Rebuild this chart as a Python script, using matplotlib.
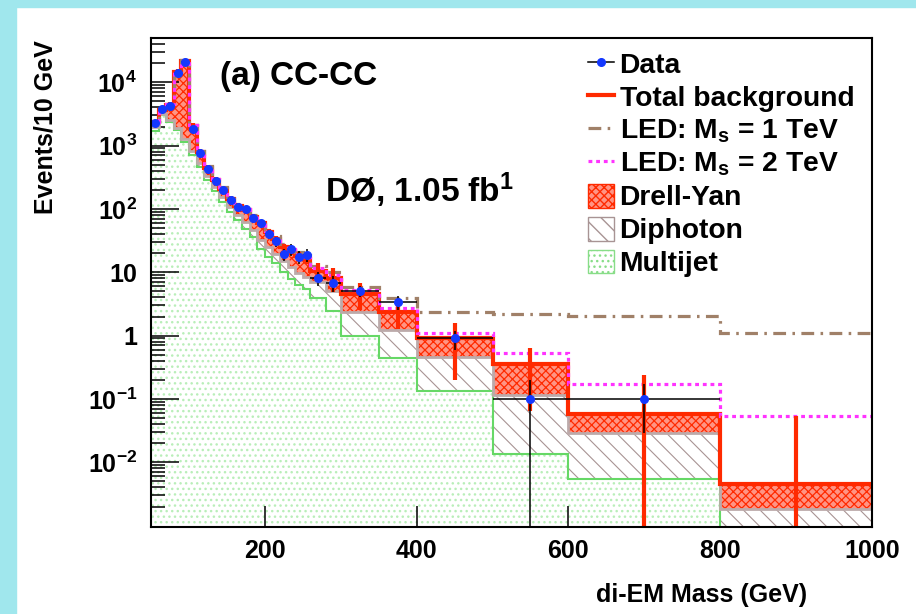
import numpy as np
import matplotlib
matplotlib.use('Agg')
import matplotlib.pyplot as plt
from matplotlib.patches import Rectangle, Patch
from matplotlib.lines import Line2D
from matplotlib.ticker import FixedLocator, FixedFormatter, NullLocator

plt.rcParams['font.family'] = ['Liberation Sans', 'DejaVu Sans']
plt.rcParams['font.weight'] = 'bold'
plt.rcParams['mathtext.fontset'] = 'custom'
plt.rcParams['mathtext.rm'] = 'Liberation Sans:bold'
plt.rcParams['mathtext.it'] = 'Liberation Sans:bold'
plt.rcParams['mathtext.bf'] = 'Liberation Sans:bold'
plt.rcParams['mathtext.sf'] = 'Liberation Sans:bold'
plt.rcParams['mathtext.default'] = 'bf'

# ---------------- data ----------------
bin_edges = [50, 60, 70, 80, 90, 100, 110, 120, 130, 140, 150, 160, 170, 180,
             190, 200, 210, 220, 230, 240, 250, 260, 280, 300, 350, 400, 500,
             600, 800, 1000]

data_vals = [2270, 3780, 4170, 13800, 20900, 1850, 764, 434, 273, 202, 137,
             108, 99, 72, 59, 39.5, 31, 19.3, 23.1, 17.5, 18.6, 8.2, 6.8,
             5.0, 3.4, 0.9, 0.1, 0.1, np.nan]

multijet = [1700, 3000, 2360, 1740, 1140, 700, 458, 290, 190, 130, 90, 66,
            49, 36, 23.7, 17.5, 13.8, 10.1, 7.8, 6.2, 5.35, 3.86, 2.43, 1.0,
            0.45, 0.135, 0.0135, 0.0054, 0.0003]

diphoton = [250, 150, 190, 160, 140, 120, 72, 45, 30, 22, 17, 14, 13, 10,
            8.3, 7.5, 5.7, 4.9, 4.2, 3.6, 3.15, 3.14, 2.57, 1.37, 0.77,
            0.325, 0.10, 0.0236, 0.0015]

drell_yan = [400, 550, 1850, 12600, 20220, 1230, 260, 115, 65, 53, 38, 32,
             33, 28, 27, 18, 13.5, 10, 9.5, 8.2, 7.5, 3.5, 3.2, 2.23, 1.15,
             0.44, 0.24, 0.028, 0.0028]

bkg_err = [230, 370, 440, 1450, 2150, 205, 80, 45, 29, 21, 15, 12, 10, 8,
           6.5, 5, 4, 3.2, 2.9, 2.6, 2.5, 3.5, 3.3, 2.1, 1.1, 0.7, 0.29,
           0.18, 0.05]

led_1tev = [2450, 3850, 4600, 15000, 22500, 2150, 830, 475, 300, 218, 155,
            120, 102, 80, 64, 47, 37, 28, 24.5, 21, 19, 12.5, 10, 5.9, 3.86,
            2.37, 2.16, 2.03, 1.08]

led_2tev = [2400, 3780, 4500, 14700, 21900, 2100, 810, 462, 292, 210, 150,
            115, 98, 77, 61, 45, 35, 26.5, 23, 19.5, 17.5, 11.5, 9.0, 5.2,
            2.69, 1.1, 0.54, 0.172, 0.054]

x_ticks = [200, 400, 600, 800, 1000]
y_ticks = [1e-2, 1e-1, 1, 10, 1e2, 1e3, 1e4]
y_tick_labels = [r'$10^{-2}$', r'$10^{-1}$', '1', '10', r'$10^{2}$',
                 r'$10^{3}$', r'$10^{4}$']

# ---------------- derived ----------------
edges = np.array(bin_edges, float)
centers = 0.5 * (edges[:-1] + edges[1:])
halfw = 0.5 * (edges[1:] - edges[:-1])
mj = np.array(multijet)
dp_top = mj + np.array(diphoton)
total = dp_top + np.array(drell_yan)
dvals = np.array(data_vals)
nevt = dvals * (2 * halfw) / 10.0
derr = np.sqrt(nevt) / ((2 * halfw) / 10.0)

W, H = 916, 614
fig = plt.figure(figsize=(W / 100, H / 100), dpi=100, facecolor='white')
cyan = '#a0e7ed'
fig.patches.append(Rectangle((0, 1 - 7 / H), 1, 7 / H, transform=fig.transFigure,
                             color=cyan, zorder=-10))
fig.patches.append(Rectangle((0, 0), 16 / W, 1, transform=fig.transFigure,
                             color=cyan, zorder=-10))

L, R, T, B = 151, 872, 38, 527
ax = fig.add_axes([L / W, 1 - B / H, (R - L) / W, (B - T) / H])
ax.set_yscale('log')
ax.set_xlim(50, 1000)
ax.set_ylim(9.5e-4, 5e4)

MJ_HATCH = '#b9eeb9'
DP_HATCH = '#a89494'
DY_FACE = '#ff9484'
RED = '#ff2a00'


def hatch_lw(artist, lw):
    if hasattr(artist, 'set_hatch_linewidth'):
        artist.set_hatch_linewidth(lw)


# multijet
p = ax.stairs(mj, edges, baseline=1e-6, fill=True, facecolor='white',
              edgecolor=MJ_HATCH, hatch='...', linewidth=0, zorder=1)
hatch_lw(p, 1.0)
ax.stairs(mj, edges, baseline=None, color='#66d866', lw=1.5, zorder=2)
# diphoton
p = ax.stairs(dp_top, edges, baseline=mj, fill=True, facecolor='white',
              edgecolor=DP_HATCH, hatch='\\\\', linewidth=0, zorder=1)
hatch_lw(p, 0.8)
# drell-yan
p = ax.stairs(total, edges, baseline=dp_top, fill=True, facecolor=DY_FACE,
              edgecolor=RED, hatch='xxxx', linewidth=0, zorder=1)
hatch_lw(p, 0.9)
ax.stairs(dp_top, edges, baseline=None, color='#bcaaaa', lw=2, zorder=2)
# total
ax.stairs(total, edges, baseline=None, color=RED, lw=3, zorder=3)
# LED
LED1_LS = (0, (4, 2, 0.8, 2))
LED2_LS = (0, (1.2, 1.2))
ax.stairs(led_1tev, edges, baseline=None, color='#a08068', lw=2.3,
          linestyle=LED1_LS, zorder=4)
ax.stairs(led_2tev, edges, baseline=None, color='#ff33ff', lw=2.3,
          linestyle=LED2_LS, zorder=4)

# background error bars
be = np.array(bkg_err)
be_lo = np.minimum(be, total - 1e-6)
ax.errorbar(centers, total, yerr=[be_lo, be], fmt='none', ecolor=RED,
            elinewidth=3, capsize=0, zorder=5)
# data
ok = ~np.isnan(dvals)
dlo = np.minimum(derr, dvals - 1e-6)
ax.errorbar(centers[ok], dvals[ok], yerr=[dlo[ok], derr[ok]], xerr=halfw[ok],
            fmt='none', ecolor='black', elinewidth=1.1, capsize=0, zorder=6)
ax.plot(centers[ok], dvals[ok], 'o', color='#1438ff', ms=5.5, mec='#1438ff',
        zorder=7)

# axes style
for s in ax.spines.values():
    s.set_linewidth(1.5)
    s.set_zorder(10)
ax.xaxis.set_major_locator(FixedLocator(x_ticks))
ax.xaxis.set_minor_locator(NullLocator())
ax.set_xticklabels([str(v) for v in x_ticks])
ax.yaxis.set_major_locator(FixedLocator(y_ticks))
ax.yaxis.set_major_formatter(FixedFormatter(y_tick_labels))
ax.yaxis.set_minor_locator(matplotlib.ticker.LogLocator(base=10, subs=np.arange(2, 10), numticks=20))
ax.yaxis.set_minor_formatter(matplotlib.ticker.NullFormatter())
ax.tick_params(which='both', direction='in', top=False, right=False,
               labelsize=18, width=1.1)
ax.tick_params(axis='y', which='major', length=20, pad=10)
ax.tick_params(axis='y', which='minor', length=10)
ax.tick_params(axis='x', which='major', length=15, pad=9)

fig.text(46 / W, 1 - 40 / H, 'Events/10 GeV', rotation=90, ha='center',
         va='top', fontsize=18, fontweight='bold')
fig.text(702 / W, 1 - 595 / H, 'di-EM Mass (GeV)', ha='center', va='center',
         fontsize=18, fontweight='bold')
fig.text(220 / W, 1 - 76 / H, '(a) CC-CC', ha='left', va='center',
         fontsize=24, fontweight='bold')
fig.text(325 / W, 1 - 190 / H, r'DØ, 1.05 fb$^{1}$', ha='left', va='center',
         fontsize=24, fontweight='bold')

handles = [
    Line2D([], [], color='black', lw=1.1, marker='o', ms=5.5, mfc='#1438ff',
           mec='#1438ff'),
    Line2D([], [], color=RED, lw=3),
    Line2D([], [], color='#a08068', lw=2.3, linestyle=LED1_LS),
    Line2D([], [], color='#ff33ff', lw=2.3, linestyle=LED2_LS),
    Patch(facecolor=DY_FACE, edgecolor=RED, hatch='xxxx', lw=1),
    Patch(facecolor='white', edgecolor=DP_HATCH, hatch='\\\\', lw=1),
    Patch(facecolor='white', edgecolor='#88dd88', hatch='...', lw=1),
]
labels = ['Data', 'Total background', r'LED: M$_{s}$ = 1 TeV',
          r'LED: M$_{s}$ = 2 TeV', 'Drell-Yan', 'Diphoton', 'Multijet']
leg = fig.legend(handles, labels, loc='upper left',
                 bbox_to_anchor=(588 / W, 1 - 51 / H), frameon=False,
                 fontsize=20.3, handlelength=0.92, handleheight=0.92,
                 handletextpad=0.2, labelspacing=0.19, borderpad=0,
                 borderaxespad=0)

fig.savefig('out.png', dpi=100, facecolor='white')
